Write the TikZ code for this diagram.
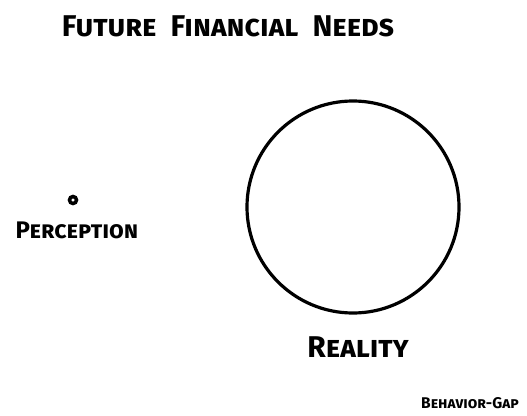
\documentclass[tikz,border=0pt]{standalone}
\usepackage{fontspec}
\setmainfont{Fira Sans}
\usetikzlibrary{positioning}

\tikzset{
	hand/.style={font=\fontsize{#1}{#1}\bfseries\scshape\selectfont, inner sep=0},
	ring/.style={draw, circle, line width=#1, inner sep=0},
}

\begin{document}
\begin{tikzpicture}[x=1pt,y=-1pt]
	\useasboundingbox (0,0) rectangle (527,415);
	\node[hand=30] (title) at (228,26) {Future\ \ Financial\ \ Needs};
	
	% the small one
	\node[ring=3.5pt, minimum size=7pt] (perc) at (73,200) {};
	\node[hand=24] (perc_lbl) at (77,230) {Perception};
	
	% the big one
	\node[ring=3.2pt, minimum size=212pt] (real) at (353,207) {};
	\node[hand=30] (real_lbl) at (358,347) {Reality};
	
	\node[hand=15.5] (brand) at (470,403) {Behavior-Gap};
\end{tikzpicture}
\end{document}
